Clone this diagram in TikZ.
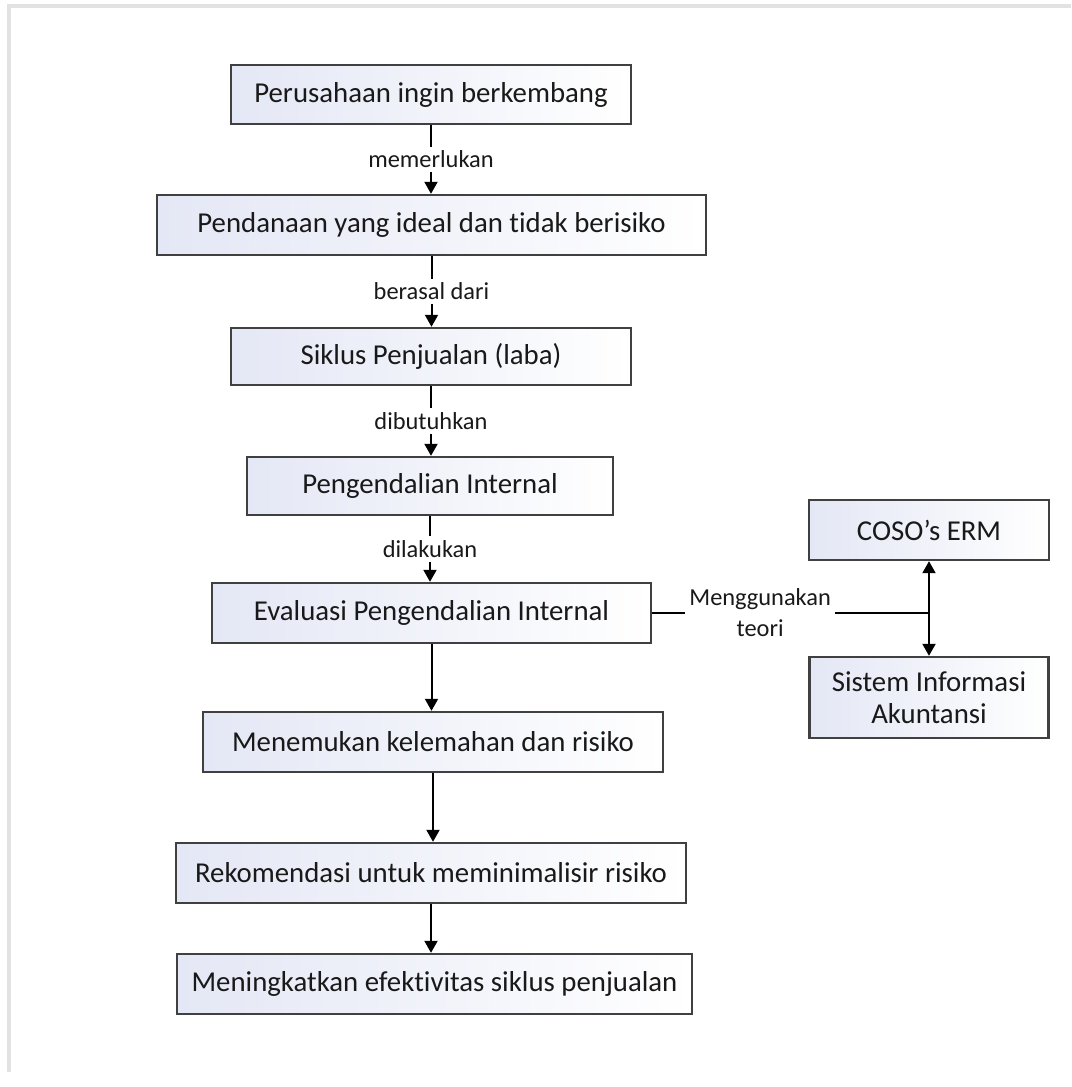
\documentclass[tikz,border=0pt]{standalone}
\usepackage{fontspec}
\setmainfont[Ligatures=NoCommon]{Carlito}
\usetikzlibrary{arrows.meta}
\definecolor{boxfill}{RGB}{228,231,245}
\definecolor{boxline}{RGB}{64,64,64}
\definecolor{txt}{RGB}{25,25,25}
\definecolor{frame}{RGB}{226,226,226}
\tikzset{
  box/.style={draw=boxline, line width=1.2pt, left color=boxfill, right color=white,
    text=txt, align=center, inner sep=2pt,
    font=\fontsize{14.4}{16}\selectfont},
  conn/.style={line width=1pt, draw=black},
  arr/.style={conn, -{Triangle[length=6pt,width=6.5pt]}},
  darr/.style={conn, {Triangle[length=6pt,width=6.5pt]}-{Triangle[length=6pt,width=6.5pt]}},
  lab/.style={fill=white, text=txt, inner sep=2pt, align=center,
    font=\fontsize{12.2}{15.5}\selectfont}
}
\begin{document}
\begin{tikzpicture}[x=0.5pt,y=-0.5pt]
\useasboundingbox (0,0) rectangle (1071,1087);
\draw[frame, line width=2pt] (9,1072) -- (9,6) -- (1071,6);

\node[box, minimum width=200pt, minimum height=29.5pt] (b1) at (431,94.5) {Perusahaan ingin berkembang};
\node[box, minimum width=274.5pt, minimum height=30pt] (b2) at (431.5,225) {Pendanaan yang ideal dan tidak berisiko};
\node[box, minimum width=200pt, minimum height=28.5pt] (b3) at (431,356.5) {Siklus Penjualan (laba)};
\node[box, minimum width=183pt, minimum height=29pt] (b4) at (430,486) {Pengendalian Internal};
\node[box, minimum width=219.5pt, minimum height=30pt] (b5) at (431.5,613) {Evaluasi Pengendalian Internal};
\node[box, minimum width=230pt, minimum height=30pt] (b6) at (433,742) {Menemukan kelemahan dan risiko};
\node[box, minimum width=255pt, minimum height=30pt] (b7) at (431,873) {Rekomendasi untuk meminimalisir risiko};
\node[box, minimum width=257.5pt, minimum height=30pt] (b8) at (434.5,984) {Meningkatkan efektivitas siklus penjualan};
\node[box, minimum width=120pt, minimum height=30pt] (coso) at (929,530) {COSO’s ERM};
\node[box, minimum width=119.5pt, minimum height=40.5pt] (sia) at (929,697.5) {Sistem Informasi\\Akuntansi};

\draw[arr] (b1.south) -- (b1.south |- b2.north) node[lab, midway] {memerlukan};
\draw[arr] (b2.south) -- (b2.south |- b3.north) node[lab, midway] {berasal dari};
\draw[arr] (b3.south) -- (b3.south |- b4.north) node[lab, midway] {dibutuhkan};
\draw[arr] (b4.south) -- (b4.south |- b5.north) node[lab, midway] {dilakukan};
\draw[arr] (b5.south) -- (b5.south |- b6.north);
\draw[arr] (b6.south) -- (b6.south |- b7.north);
\draw[arr] (b7.south) -- (b7.south |- b8.north);

\draw[darr] (coso.south) -- (sia.north);
\coordinate (j) at (coso.south |- b5.east);
\draw[conn] (b5.east) -- (j) node[lab, pos=0.39] {Menggunakan\\teori};
\end{tikzpicture}
\end{document}
